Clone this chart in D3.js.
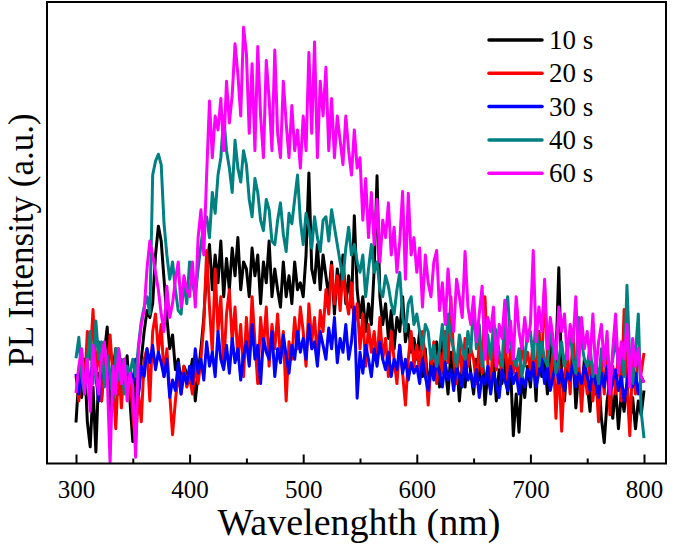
<!DOCTYPE html>
<html>
<head>
<meta charset="utf-8">
<script src="https://cdn.jsdelivr.net/npm/d3@7"></script>
<style>
  html, body { margin: 0; padding: 0; background: #fff; }
  svg { display: block; }
</style>
</head>
<body>
<svg id="chart" width="675" height="545"></svg>
<script>
// Wavelength grid: 300 to 800 nm, every 2.5 nm (201 points)
const wlStart = 300, wlStep = 2.5;

const seriesNames = ["10 s", "20 s", "30 s", "40 s", "60 s"];
const seriesColors = ["#000000", "#ff0000", "#0000ff", "#008080", "#ff00ff"];

const s10 = [
  118, 250, 190, 300, 120, 48, 220, 33, 260, 180, 320, 393, 150, 270, 330, 200, 290, 240, 310, 180,
  63, 250, 200, 300, 380, 440, 420, 460, 600, 683, 640, 530, 420, 330, 370, 270, 300, 230, 280, 260,
  250, 300, 180, 260, 330, 420, 560, 630, 500, 600, 520, 640, 480, 590, 500, 620, 540, 650, 500, 580,
  560, 480, 620, 540, 600, 460, 580, 520, 640, 480, 560, 500, 450, 580, 480, 540, 460, 580, 500, 520,
  480, 600, 836, 560, 520, 630, 500, 600, 540, 480, 580, 430, 560, 500, 600, 460, 540, 450, 713, 500,
  420, 480, 380, 460, 400, 560, 828, 480, 400, 460, 360, 440, 330, 420, 380, 480, 350, 400, 320, 360,
  300, 380, 250, 330, 200, 300, 260, 350, 220, 380, 280, 200, 320, 240, 300, 180, 280, 220, 330, 260,
  200, 300, 240, 330, 170, 260, 210, 300, 180, 270, 230, 300, 200, 280, 80, 200, 90, 250, 190, 280,
  220, 320, 180, 380, 250, 300, 200, 340, 260, 300, 563, 250, 180, 300, 230, 330, 160, 260, 200, 300,
  230, 150, 280, 200, 260, 130, 60, 180, 240, 130, 220, 100, 200, 150, 230, 120, 190, 100, 180, 140,
  210
];
const s20 = [
  253, 180, 320, 220, 380, 300, 443, 250, 350, 180, 300, 230, 370, 250, 100, 280, 160, 300, 200, 260,
  140, 58, 200, 120, 300, 330, 180, 380, 430, 320, 400, 250, 330, 200, 83, 180, 260, 200, 280, 220,
  250, 200, 280, 230, 300, 400, 613, 450, 320, 560, 380, 480, 280, 430, 500, 350, 450, 300, 400, 250,
  420, 300, 480, 350, 230, 420, 330, 450, 280, 400, 330, 430, 300, 380, 180, 350, 300, 420, 330, 450,
  380, 280, 460, 350, 420, 300, 440, 380, 500, 430, 570, 460, 540, 440, 560, 480, 430, 520, 400, 460,
  330, 430, 280, 400, 320, 380, 290, 420, 300, 360, 250, 380, 300, 230, 340, 260, 168, 300, 380, 280,
  340, 260, 380, 300, 168, 280, 350, 230, 320, 260, 380, 290, 480, 300, 230, 340, 260, 360, 280, 330,
  300, 230, 350, 260, 480, 290, 230, 360, 270, 320, 250, 380, 240, 330, 260, 300, 230, 350, 280, 320,
  270, 350, 230, 380, 280, 513, 300, 240, 330, 130, 300, 93, 250, 330, 200, 380, 230, 300, 150, 280,
  200, 330, 180, 260, 120, 300, 200, 330, 140, 280, 200, 330, 180, 443, 230, 80, 300, 200, 330, 260,
  318
];
const s30 = [
  258, 200, 300, 230, 280, 210, 320, 250, 180, 290, 240, 310, 220, 280, 200, 330, 250, 300, 220, 270,
  230, 300, 200, 280, 250, 330, 290, 340, 270, 320, 290, 250, 300, 190, 240, 210, 290, 200, 260, 230,
  280, 230, 330, 260, 300, 240, 350, 280, 320, 250, 380, 300, 270, 340, 260, 360, 290, 330, 240, 310,
  350, 280, 400, 300, 340, 230, 360, 320, 300, 380, 250, 330, 290, 370, 310, 260, 340, 300, 380, 320,
  360, 300, 400, 330, 350, 280, 380, 340, 300, 390, 330, 420, 290, 360, 320, 400, 300, 350, 450, 188,
  320, 260, 340, 300, 250, 330, 280, 350, 300, 270, 320, 250, 300, 270, 340, 260, 300, 240, 290, 260,
  280, 230, 300, 250, 210, 280, 240, 300, 260, 220, 290, 240, 270, 210, 280, 250, 220, 300, 240, 260,
  220, 270, 190, 250, 230, 280, 200, 260, 230, 190, 270, 240, 210, 280, 230, 260, 200, 250, 220, 270,
  240, 290, 220, 260, 300, 230, 280, 210, 250, 290, 230, 270, 210, 260, 240, 300, 220, 260, 230, 280,
  250, 210, 280, 230, 190, 260, 220, 280, 200, 240, 270, 210, 250, 180, 230, 290, 220, 260, 200, 250,
  233
];
const s40 = [
  303, 363, 250, 200, 300, 380, 230, 410, 300, 350, 220, 310, 260, 180, 330, 240, 300, 200, 280, 260,
  300, 250, 340, 410, 450, 480, 430, 830, 870, 890, 860, 690, 600, 530, 580, 500, 440, 430, 520, 460,
  580, 520, 480, 560, 630, 690, 710, 650, 780, 720, 830, 880, 1000, 900, 850, 780, 930, 850, 810, 900,
  860, 760, 710, 820, 780, 700, 670, 760, 730, 640, 630, 700, 750, 660, 610, 720, 690, 760, 830, 700,
  630, 720, 680, 620, 710, 650, 610, 700, 710, 640, 730, 680, 630, 580, 530, 620, 680, 600, 630, 580,
  550, 600, 480, 560, 630, 550, 580, 500, 480, 540, 510, 460, 430, 500, 550, 420, 380, 460, 480, 400,
  430, 380, 330, 400, 380, 300, 340, 280, 330, 400, 300, 430, 360, 330, 280, 370, 330, 300, 380, 320,
  460, 330, 400, 280, 330, 370, 300, 400, 380, 320, 280, 430, 480, 350, 300, 280, 330, 250, 300, 380,
  380, 300, 420, 280, 350, 300, 280, 380, 330, 260, 300, 350, 280, 330, 380, 300, 260, 420, 350, 300,
  280, 340, 250, 300, 230, 330, 290, 330, 260, 300, 360, 280, 330, 250, 513, 300, 230, 320, 430, 150,
  73
];
const s60 = [
  203, 280, 330, 200, 300, 150, 340, 260, 200, 310, 350, 250, 3, 280, 200, 330, 230, 300, 180, 260,
  220, 18, 330, 400, 440, 560, 640, 600, 550, 500, 430, 380, 510, 420, 460, 530, 580, 450, 540, 500,
  480, 580, 450, 650, 730, 600, 830, 1043, 880, 1000, 960, 1050, 900, 1100, 980, 1060, 1208, 1120, 1000, 1255,
  1180, 950, 1150, 900, 1200, 1000, 880, 1160, 1050, 900, 1190, 950, 880, 1100, 980, 880, 1030, 900, 960, 850,
  1000, 900, 1183, 950, 1213, 880, 1100, 1000, 1140, 900, 1050, 880, 1000, 930, 860, 1000, 900, 830, 960, 850,
  880, 700, 820, 650, 780, 630, 760, 580, 700, 650, 750, 600, 680, 550, 640, 783, 530, 778, 600, 650,
  550, 620, 450, 600, 520, 480, 580, 613, 440, 520, 400, 560, 450, 380, 530, 480, 420, 610, 450, 400,
  480, 350, 430, 510, 300, 420, 380, 450, 280, 400, 360, 470, 320, 410, 300, 480, 380, 330, 420, 350,
  400, 613, 350, 450, 380, 530, 330, 420, 360, 300, 450, 380, 430, 300, 400, 350, 480, 280, 420, 330,
  380, 300, 430, 260, 350, 400, 280, 380, 200, 330, 430, 260, 350, 300, 400, 220, 360, 280, 330, 250,
  233
];
const seriesValues = [s10, s20, s30, s40, s60];

const xMajorTicks = [300, 400, 500, 600, 700, 800];
const xMinorTicks = [350, 450, 550, 650, 750];
const xTitle = "Wavelenghth (nm)";
const yTitle = "PL Intensity (a.u.)";

// ---- layout ----
const FONT = "'Liberation Serif', 'Times New Roman', Times, 'DejaVu Serif', serif";
const frame = { left: 47, right: 666, top: 2, bottom: 463.5 };
const svg = d3.select("#chart");

const x = d3.scaleLinear().domain([300, 800]).range([76, 644]);
const y = d3.scaleLinear().domain([0, 1328]).range([frame.bottom, frame.top]);

const line = d3.line()
  .x((d, i) => x(wlStart + i * wlStep))
  .y(d => y(d));

svg.append("clipPath").attr("id", "clip")
  .append("rect")
  .attr("x", frame.left).attr("y", frame.top)
  .attr("width", frame.right - frame.left).attr("height", frame.bottom - frame.top);

const g = svg.append("g").attr("clip-path", "url(#clip)");
seriesValues.forEach((vals, k) => {
  g.append("path")
    .datum(vals)
    .attr("d", line)
    .attr("fill", "none")
    .attr("stroke", seriesColors[k])
    .attr("stroke-width", 3)
    .attr("stroke-linejoin", "round");
});

// frame
svg.append("rect")
  .attr("x", frame.left).attr("y", frame.top)
  .attr("width", frame.right - frame.left).attr("height", frame.bottom - frame.top)
  .attr("fill", "none").attr("stroke", "#000").attr("stroke-width", 2);

// bottom axis: inward ticks
const axisMajor = d3.axisBottom(x).tickValues(xMajorTicks).tickSizeInner(-9).tickSizeOuter(0).tickPadding(17).tickFormat(d3.format("d"));
const axG = svg.append("g").attr("transform", `translate(0,${frame.bottom})`).call(axisMajor);
axG.attr("font-family", null).attr("font-size", null);
axG.select(".domain").remove();
axG.selectAll(".tick line").attr("stroke", "#000").attr("stroke-width", 2);
axG.selectAll(".tick text")
  .style("font-family", FONT)
  .style("font-size", "25px")
  .attr("fill", "#000");

const axisMinor = d3.axisBottom(x).tickValues(xMinorTicks).tickSizeInner(-5).tickSizeOuter(0).tickFormat("");
const axMinG = svg.append("g").attr("transform", `translate(0,${frame.bottom})`).call(axisMinor);
axMinG.select(".domain").remove();
axMinG.selectAll(".tick line").attr("stroke", "#000").attr("stroke-width", 2);

// axis titles
svg.append("text")
  .attr("x", 359)
  .attr("y", 535)
  .attr("text-anchor", "middle")
  .style("font-family", FONT)
  .style("font-size", "38px")
  .text(xTitle);

svg.append("text")
  .attr("transform", `translate(33,${240}) rotate(-90)`)
  .attr("text-anchor", "middle")
  .style("font-family", FONT)
  .style("font-size", "35px")
  .text(yTitle);

// legend
const leg = svg.append("g");
seriesNames.forEach((name, k) => {
  const ly = 40 + k * 33.3;
  leg.append("line")
    .attr("x1", 489).attr("x2", 542)
    .attr("y1", ly).attr("y2", ly)
    .attr("stroke", seriesColors[k]).attr("stroke-width", 3.5)
    .attr("stroke-linecap", "round");
  leg.append("text")
    .attr("x", 549).attr("y", ly + 9)
    .style("font-family", FONT)
    .style("font-size", "27px")
    .text(name);
});
</script>
</body>
</html>
